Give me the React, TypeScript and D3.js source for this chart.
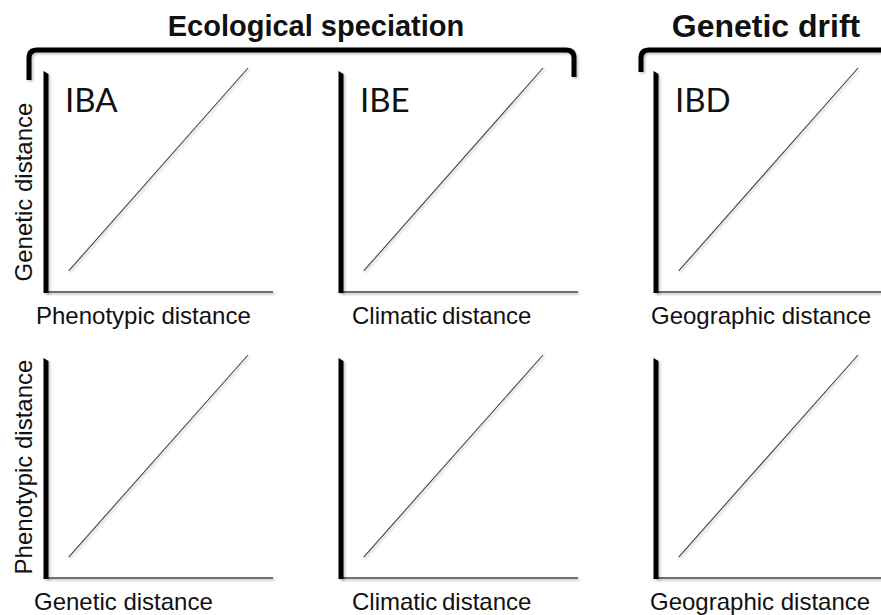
import * as d3 from "d3";

const groupTitles = ["Ecological speciation", "Genetic drift"];
const panelTags = ["IBA", "IBE", "IBD"];
const rowYLabels = ["Genetic distance", "Phenotypic distance"];
const xLabelsTop = ["Phenotypic distance", "Climatic distance", "Geographic distance"];
const xLabelsBottom = ["Genetic distance", "Climatic distance", "Geographic distance"];

// relationship line, start and end in relative units of each panel
const trendX = [0.1, 0.89];
const trendY = [0.094, 1.0];

const width = 881;
const height = 615;

const colLeft = [46, 341, 656];
const colAxisEnd = [273, 578, 890];
const rowTop = [68, 355];
const rowBottom = [292, 578];
const plotW = 227;
const labelStartTop = [36, 352, 651];
const labelStartBottom = [34, 352, 650];

export default function App() {
    const line = d3.line<[number, number]>();

    const panels: JSX.Element[] = [];
    [0, 1].forEach((r) => {
        colLeft.forEach((left, c) => {
            const x = d3.scaleLinear().domain([0, 1]).range([left, left + plotW]);
            const y = d3.scaleLinear().domain([0, 1]).range([rowBottom[r], rowTop[r]]);
            const pts: [number, number][] = trendX.map((v, i) => [x(v), y(trendY[i])]);
            const labels = r === 0 ? xLabelsTop : xLabelsBottom;
            const starts = r === 0 ? labelStartTop : labelStartBottom;
            panels.push(
                <g key={`${r}-${c}`}>
                    <line x1={left} x2={colAxisEnd[c]} y1={rowBottom[r]} y2={rowBottom[r]}
                        stroke="#6f6f6f" strokeWidth={2} filter="url(#sh)" />
                    <path d={`M${left - 2.5},${rowTop[r] + 3} L${left + 2.5},${rowTop[r] + 6} L${left + 2.5},${rowBottom[r] + 1} L${left - 2.5},${rowBottom[r] + 1} Z`}
                        fill="#000" filter="url(#sh)" />
                    <path d={String(line(pts))} stroke="#444" strokeWidth={1.1} fill="none" filter="url(#sh)" />
                    {r === 0 && (
                        <text x={left + 19} y={112} fontFamily="Lato, 'Open Sans', sans-serif" fontSize={33} fill="#111">
                            {panelTags[c]}
                        </text>
                    )}
                    <text x={starts[c]} y={r === 0 ? 324 : 610} fontFamily="'Liberation Sans', Arial, sans-serif"
                        fontSize={24} fill="#111" wordSpacing={c === 1 ? -2 : 0}>
                        {labels[c]}
                    </text>
                </g>
            );
        });
    });

    return (
        <svg width={width} height={height} style={{ position: "absolute", left: 0, top: 0, background: "#fff" }}>
            <defs>
                <filter id="sh" filterUnits="userSpaceOnUse" x={0} y={0} width={width} height={height}>
                    <feDropShadow dx={1.5} dy={1.5} stdDeviation={1.2} floodColor="#000" floodOpacity={0.25} />
                </filter>
            </defs>
            <rect width={width} height={height} fill="#fff" />

            {/* group titles */}
            <text x={316} y={36} textAnchor="middle" fontFamily="'Liberation Sans', Arial, sans-serif"
                fontWeight="bold" fontSize={29} fill="#111">{groupTitles[0]}</text>
            <text x={766} y={37} textAnchor="middle" fontFamily="'Liberation Sans', Arial, sans-serif"
                fontWeight="bold" fontSize={32} fill="#111">{groupTitles[1]}</text>

            {/* brackets */}
            <path d="M29,80 L29,58 Q29,50 37,50 L566,50 Q574,50 574,58 L574,77"
                stroke="#000" strokeWidth={5} fill="none" filter="url(#sh)" />
            <path d="M641,72 L641,58 Q641,50 649,50 L895,50"
                stroke="#000" strokeWidth={5} fill="none" filter="url(#sh)" />

            {/* row y labels */}
            {rowYLabels.map((t, i) => (
                <text key={t} transform={`translate(32,${i === 0 ? 192 : 467}) rotate(-90)`} textAnchor="middle"
                    fontFamily="'Liberation Sans', Arial, sans-serif" fontSize={24} fill="#111">{t}</text>
            ))}

            {panels}
        </svg>
    );
}
